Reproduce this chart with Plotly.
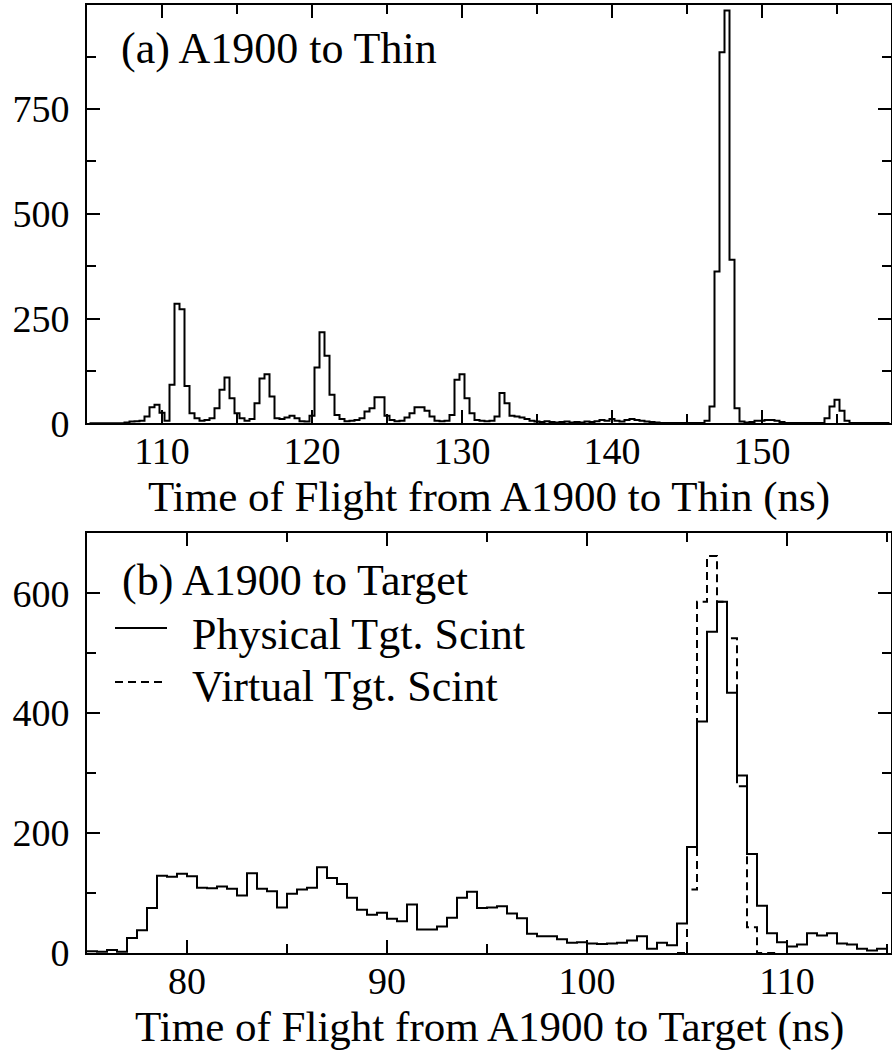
import plotly.graph_objects as go
from plotly.subplots import make_subplots

# ---------------- data ----------------
# Panel (a): bins of 1/3 ns starting at 105 + 1/6 ns
thin_bin_start = 105.0 + 1.0 / 6.0
thin_bin_width = 1.0 / 3.0
thin_counts = [
    0, 0, 0, 0, 0, 0, 0, 2, 4, 5, 6, 16, 38, 44, 25,            # k 0-14
    6, 92, 285, 272, 89, 24, 12, 6, 8, 12, 36, 80, 109, 60, 24,  # k 15-29
    12, 6, 10, 48, 107, 117, 64, 12, 10, 14, 18, 12, 5, 4, 18,  # k 30-44
    133, 217, 161, 68, 20, 10, 5, 6, 8, 12, 28, 36, 62, 62, 18,  # k 45-59
    8, 5, 6, 14, 24, 38, 38, 30, 16, 6, 5, 6, 20, 104, 117,     # k 60-74
    60, 24, 8, 6, 5, 6, 16, 72, 48, 18, 16, 14, 10, 6, 4,       # k 75-89
    3, 5, 3, 2, 3, 4, 2, 3, 2, 4, 3, 5, 8, 6, 10,               # k 90-104
    6, 4, 8, 10, 8, 6, 4, 3, 2, 1, 1, 1, 1, 1, 1,               # k 105-119
    1, 1, 1, 6, 40, 362, 885, 985, 390, 36, 4, 2, 3, 6, 6,      # k 120-134
    8, 8, 6, 3, 1, 1, 1, 1, 1, 1, 1, 1, 12, 40, 56,             # k 135-149
    30, 6, 1, 1, 1, 1, 1, 1, 1, 1,                              # k 150-159
]

# Panel (b): bins of 0.5 ns starting at 75 ns
tgt_bin_start = 75.0
tgt_bin_width = 0.5
physical_counts = [
    3, 2, 5, 2, 25, 38, 75, 129, 127, 132,        # 75.0 - 79.5
    128, 109, 108, 111, 107, 96, 133, 107, 103, 76,  # 80.0 - 84.5
    99, 106, 109, 143, 125, 115, 92, 72, 64, 67,   # 85.0 - 89.5
    57, 53, 81, 39, 39, 44, 59, 92, 102, 75,       # 90.0 - 94.5
    76, 78, 66, 58, 32, 28, 28, 23, 17, 18,        # 95.0 - 99.5
    16, 15, 16, 17, 21, 28, 7, 17, 13, 49,         # 100.0 - 104.5
    177, 386, 536, 586, 434, 296, 165, 79, 33, 18,  # 105.0 - 109.5
    11, 14, 33, 29, 33, 16, 14, 7, 4, 7,           # 110.0 - 114.5
]
virtual_bin_start = 104.5
virtual_counts = [0, 106, 586, 662, 586, 525, 278, 43, 0, 0]  # 104.5 - 109.0

panel_a_label = "(a) A1900 to Thin"
panel_b_label = "(b) A1900 to Target"
legend_labels = ["Physical Tgt. Scint", "Virtual Tgt. Scint"]
xtitle_a = "Time of Flight from A1900 to Thin (ns)"
xtitle_b = "Time of Flight from A1900 to Target (ns)"


def step_xy(start, width, counts):
    xs = [start + i * width for i in range(len(counts) + 1)]
    ys = list(counts) + [counts[-1]]
    return xs, ys


FONT = "Liberation Serif"
W, H = 892, 1053
ML, MR, MT, MB = 87, 1, 5, 100
PW, PH = W - ML - MR, H - MT - MB


def px(xp):
    return (xp - ML) / PW


def py(yp):
    return (H - MB - yp) / PH


fig = make_subplots(rows=2, cols=1)

xa, ya = step_xy(thin_bin_start, thin_bin_width, thin_counts)
fig.add_trace(go.Scatter(x=xa, y=ya, mode="lines", line=dict(shape="hv", color="black", width=2),
                         showlegend=False), row=1, col=1)

xv, yv = step_xy(virtual_bin_start, tgt_bin_width, virtual_counts)
fig.add_trace(go.Scatter(x=xv, y=yv, mode="lines", name=legend_labels[1],
                         line=dict(shape="hv", color="black", width=2, dash="8px,5px"),
                         showlegend=False), row=2, col=1)

xp_, yp_ = step_xy(tgt_bin_start, tgt_bin_width, physical_counts)
fig.add_trace(go.Scatter(x=xp_, y=yp_, mode="lines", name=legend_labels[0],
                         line=dict(shape="hv", color="black", width=2),
                         showlegend=False), row=2, col=1)

axis_common = dict(
    showline=True, linecolor="black", linewidth=2, mirror="allticks",
    ticks="inside", ticklen=13, tickwidth=2, tickcolor="black",
    showgrid=False, zeroline=False, automargin=False,
    tickfont=dict(family=FONT, size=38, color="black"),
)
minor_common = dict(ticks="inside", ticklen=9, tickwidth=2, tickcolor="black")
title_font = dict(family=FONT, size=43, color="black")
top_dom = [py(423.3), 1.0]
bot_dom = [0.0, py(533.3)]

fig.update_xaxes(**axis_common, row=1, col=1, range=[105, 158.6], dtick=10, tick0=0,
                 minor=dict(dtick=5, **minor_common), ticklabelstandoff=-7)
fig.update_xaxes(**axis_common, row=2, col=1, range=[75, 115.2], dtick=10, tick0=0,
                 minor=dict(dtick=5, **minor_common), ticklabelstandoff=-7)
fig.update_yaxes(**axis_common, row=1, col=1, range=[0, 998], dtick=250, tick0=0, domain=top_dom,
                 minor=dict(dtick=125, **minor_common), ticklabelstandoff=8)
fig.update_yaxes(**axis_common, row=2, col=1, range=[0, 700], dtick=200, tick0=0, domain=bot_dom,
                 minor=dict(dtick=100, **minor_common), ticklabelstandoff=8)

# x-axis titles as annotations for exact placement
fig.add_annotation(text=xtitle_a, xref="paper", yref="paper", x=0.5, y=py(497),
                   xanchor="center", yanchor="middle", showarrow=False, font=title_font)
fig.add_annotation(text=xtitle_b, xref="paper", yref="paper", x=0.5, y=py(1027),
                   xanchor="center", yanchor="middle", showarrow=False, font=title_font)

ann_font = dict(family=FONT, size=44, color="black")
fig.add_annotation(text=panel_a_label, xref="paper", yref="paper", x=px(119), y=py(49),
                   xanchor="left", yanchor="middle", showarrow=False, font=ann_font)
fig.add_annotation(text=panel_b_label, xref="paper", yref="paper", x=px(120), y=py(580),
                   xanchor="left", yanchor="middle", showarrow=False, font=ann_font)
fig.add_annotation(text=legend_labels[0], xref="paper", yref="paper", x=px(190), y=py(634),
                   xanchor="left", yanchor="middle", showarrow=False, font=ann_font)
fig.add_annotation(text=legend_labels[1], xref="paper", yref="paper", x=px(190), y=py(686),
                   xanchor="left", yanchor="middle", showarrow=False, font=ann_font)
fig.add_shape(type="line", xref="paper", yref="paper", x0=px(115), x1=px(167), y0=py(628), y1=py(628),
              line=dict(color="black", width=2))
fig.add_shape(type="line", xref="paper", yref="paper", x0=px(115), x1=px(166), y0=py(682), y1=py(682),
              line=dict(color="black", width=2, dash="8px,5px"))

fig.update_layout(
    width=W, height=H, margin=dict(l=ML, r=MR, t=MT, b=MB, pad=0, autoexpand=False),
    paper_bgcolor="white", plot_bgcolor="white", showlegend=False,
    font=dict(family=FONT, color="black"),
)

fig.write_html("out.html", config={"displayModeBar": False},
               post_script="document.body.style.margin='0px';")
